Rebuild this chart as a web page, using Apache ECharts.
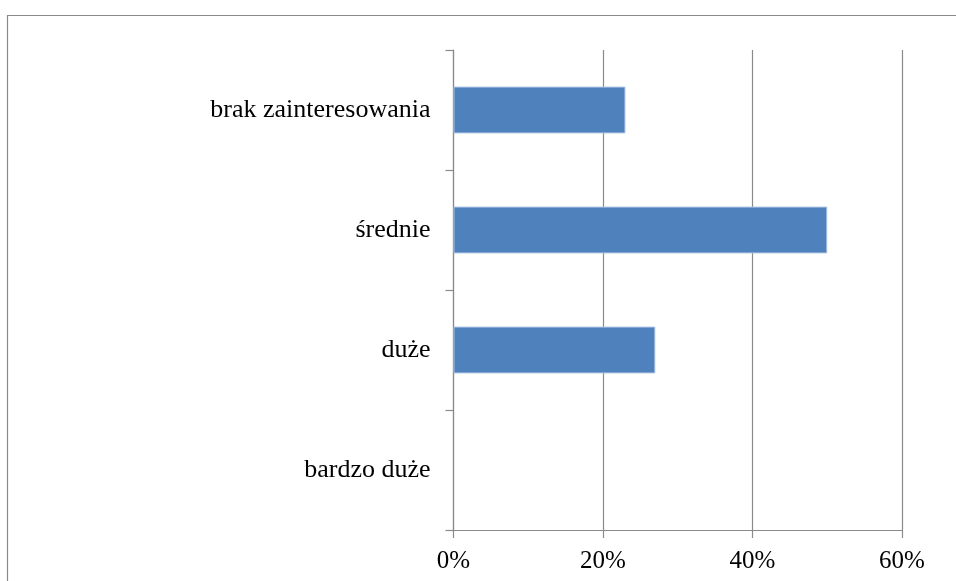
<!DOCTYPE html>
<html>
<head>
<meta charset="utf-8">
<script src="https://cdn.jsdelivr.net/npm/echarts@6/dist/echarts.min.js"></script>
<style>
  html, body { margin: 0; padding: 0; background: #ffffff; }
  #chart { width: 956px; height: 581px; }
</style>
</head>
<body>
<div id="chart"></div>
<script>
// Categories listed bottom to top, as the category axis stacks them upward
const categories = ['bardzo duże', 'duże', 'średnie', 'brak zainteresowania'];
// Share of answers, in percent
const shares = [0, 27, 50, 23];
// Value axis ticks (percent)
const tickValues = [0, 20, 40, 60];

const axisGray = '#8a8a8a';
const fontFamily = '"Liberation Serif", "Times New Roman", serif';

const chart = echarts.init(document.getElementById('chart'), null, { renderer: 'canvas' });

// Zero-length bars get no outline so nothing is drawn for them
const barData = shares.map(v => ({
  value: v,
  itemStyle: v === 0 ? { borderWidth: 0 } : undefined
}));

chart.setOption({
  animation: false,
  backgroundColor: '#ffffff',
  graphic: [{
    // chart-area frame (left and top edges visible)
    type: 'rect',
    silent: true,
    shape: { x: 7.5, y: 15.5, width: 1100, height: 800 },
    style: { fill: 'none', stroke: axisGray, lineWidth: 1.2 }
  }],
  grid: {
    left: 453.5,
    right: 54,
    top: 50,
    bottom: 51,
    containLabel: false
  },
  xAxis: {
    type: 'value',
    min: tickValues[0],
    max: tickValues[tickValues.length - 1],
    interval: tickValues[1] - tickValues[0],
    axisLine: { show: true, lineStyle: { color: axisGray, width: 1.2 } },
    axisTick: { show: true, length: 8, lineStyle: { color: axisGray, width: 1.2 } },
    splitLine: { show: true, lineStyle: { color: axisGray, width: 1.2 } },
    axisLabel: {
      margin: 19,
      color: '#000000',
      fontFamily: fontFamily,
      fontSize: 25,
      formatter: v => v + '%'
    }
  },
  yAxis: {
    type: 'category',
    data: categories,
    axisLine: { show: true, lineStyle: { color: axisGray, width: 1.2 } },
    axisTick: { show: true, length: 8, lineStyle: { color: axisGray, width: 1.2 } },
    splitLine: { show: false },
    axisLabel: {
      margin: 23,
      color: '#000000',
      fontFamily: fontFamily,
      fontSize: 26
    }
  },
  series: [{
    type: 'bar',
    data: barData,
    barWidth: '39%',
    itemStyle: {
      color: '#4F81BD',
      borderColor: '#a9c1e3',
      borderWidth: 1
    }
  }]
});
</script>
</body>
</html>
